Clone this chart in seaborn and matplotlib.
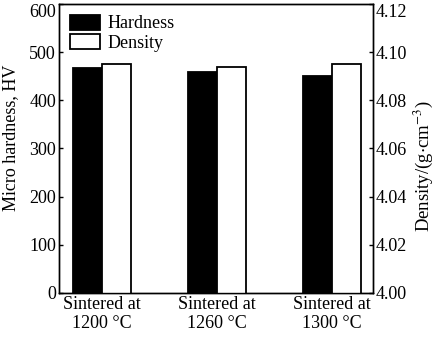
import matplotlib
matplotlib.use("Agg")
import matplotlib.pyplot as plt
from matplotlib.patches import Patch
import numpy as np
import pandas as pd
import seaborn as sns

# data
conditions = ['Sintered at\n1200 °C', 'Sintered at\n1260 °C', 'Sintered at\n1300 °C']
hardness = [466, 458, 450]
density = [4.095, 4.094, 4.095]
series = ['Hardness', 'Density']

sns.set_style('white')
plt.rcParams['font.family'] = ['Liberation Serif', 'DejaVu Serif']
plt.rcParams['mathtext.fontset'] = 'stix'
plt.rcParams['font.size'] = 13
plt.rcParams['text.color'] = 'black'
plt.rcParams['axes.labelcolor'] = 'black'
plt.rcParams['xtick.color'] = 'black'
plt.rcParams['ytick.color'] = 'black'

df_h = pd.DataFrame({'cond': conditions, 'val': hardness, 'series': 'Hardness'})
df_d = pd.DataFrame({'cond': conditions, 'val': density, 'series': 'Density'})
colors = {'Hardness': 'black', 'Density': 'white'}

fig = plt.figure(figsize=(4.35, 3.56), dpi=100)
ax = fig.add_axes([0.135, 0.177, 0.722, 0.812])
ax2 = ax.twinx()

sns.barplot(data=df_h, x='cond', y='val', hue='series', hue_order=series,
            palette=colors, edgecolor='black', linewidth=1.3, width=0.5,
            dodge=True, legend=False, ax=ax)
sns.barplot(data=df_d, x='cond', y='val', hue='series', hue_order=series,
            palette=colors, edgecolor='black', linewidth=1.3, width=0.5,
            dodge=True, legend=False, ax=ax2)

ax.set_xlim(-0.377, 2.354)
ax.set_ylim(0, 600)
ax.set_yticks(np.arange(0, 601, 100))
ax2.set_ylim(4.00, 4.12)
ax2.set_yticks(np.arange(4.00, 4.121, 0.02))
ax2.set_yticklabels([f'{v:.2f}' for v in np.arange(4.00, 4.121, 0.02)])

# top tick labels sit just below the frame edge, as in the original
ax.get_yticklabels()[-1].set_verticalalignment('top')
ax2.get_yticklabels()[-1].set_verticalalignment('top')

ax.set_xlabel('')
ax.set_ylabel('Micro hardness, HV')
ax.yaxis.set_label_coords(-0.127, 0.536)
ax2.set_xlabel('')
ax2.set_ylabel('Density/(g$\\cdot$cm$^{-3}$)', fontsize=13.5)
ax2.yaxis.set_label_coords(1.125, 0.44)

ax.tick_params(axis='y', direction='in', length=3, width=1, pad=2, left=True, right=False)
ax2.tick_params(axis='y', direction='in', length=3, width=1, pad=2, right=True, left=False)
ax.tick_params(axis='x', length=0, pad=2)
for a in (ax, ax2):
    for s in a.spines.values():
        s.set_color('black')
        s.set_linewidth(1.0)

handles = [Patch(facecolor='black', edgecolor='black', linewidth=1.3),
           Patch(facecolor='white', edgecolor='black', linewidth=1.3)]
ax2.legend(handles, series, loc='upper left', frameon=False,
           handlelength=1.7, handleheight=0.9, labelspacing=0.1,
           handletextpad=0.4, borderaxespad=0.3, borderpad=0.3)

fig.savefig('out.png', dpi=100)
